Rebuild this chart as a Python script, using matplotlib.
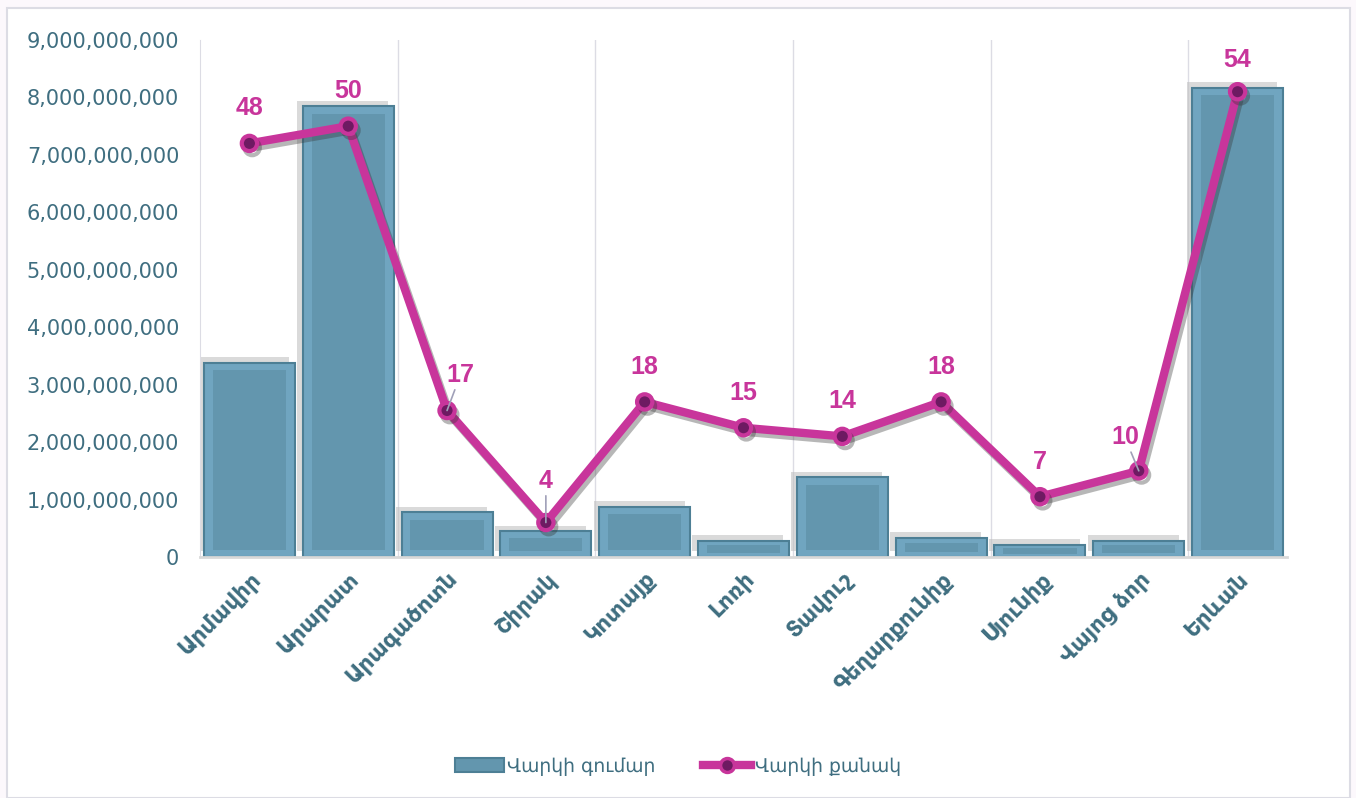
import numpy as np
import matplotlib
matplotlib.use('Agg')
import matplotlib.pyplot as plt
import matplotlib.patheffects as pe
from matplotlib.patches import Rectangle
from matplotlib.lines import Line2D
from matplotlib.ticker import FuncFormatter, MultipleLocator

# data
regions = ['Արմավիր', 'Արարատ', 'Արագածոտն', 'Շիրակ', 'Կոտայք', 'Լոռի',
           'Տավուշ', 'Գեղարքունիք', 'Սյունիք', 'Վայոց ձոր', 'Երևան']
loan_sum = [3.38e9, 7.85e9, 0.78e9, 0.45e9, 0.87e9, 0.28e9,
            1.39e9, 0.33e9, 0.21e9, 0.28e9, 8.17e9]
loan_count = [48, 50, 17, 4, 18, 15, 14, 18, 7, 10, 54]

# label centre offsets in pixels (dx, dy) and leader lines
lab_off = [(0, 35), (0, 35), (13, 36), (0, 42), (0, 35), (0, 35),
           (0, 35), (0, 35), (0, 35), (-13, 34), (0, 32)]
leader = [False, False, True, True, False, False, False, False, False, True, False]

teal = '#3f6e80'
mag = '#c8359b'
dark = '#6e1a62'
bar_frame = '#70a5c0'
bar_mid = '#6396ae'

plt.rcParams['font.family'] = ['DejaVu Sans']

fig = plt.figure(figsize=(13.56, 7.98), dpi=100)
fig.patch.set_facecolor('#fcf8fc')
fig.add_artist(Rectangle((7/1356, 0), 1343/1356, 1 - 8/798, transform=fig.transFigure,
                         facecolor='white', edgecolor='#dcdce4', lw=1.5, zorder=-5))

ax = fig.add_axes([200/1356, 1 - 557/798, 1087/1356, 517/798])
ax.set_facecolor('none')
x = np.arange(len(regions))

bars = ax.bar(x, loan_sum, width=0.92, color=bar_frame, edgecolor='#4d7f95', linewidth=1.5,
              zorder=2)
for b in bars:
    b.set_path_effects([pe.SimplePatchShadow(offset=(-4, 4), shadow_rgbFace='#bdbdbd', alpha=0.55),
                        pe.Normal()])
# bevel look: darker inner panel
bev = np.minimum(0.13e9, np.array(loan_sum) * 0.25)
ax.bar(x, np.array(loan_sum) - 2 * bev, bottom=bev, width=0.74, color=bar_mid,
       edgecolor='none', zorder=3)

ax.set_xlim(-0.5, len(regions) - 0.5)
ax.set_ylim(0, 9e9)
ax.yaxis.set_major_locator(MultipleLocator(1e9))
ax.yaxis.set_major_formatter(FuncFormatter(lambda v, p: f'{v:,.0f}'))
ax.tick_params(axis='y', length=0, labelsize=15, labelcolor=teal, pad=15)
ax.tick_params(axis='x', length=0, pad=8)
ax.set_xticks(x)
ax.set_xticklabels(regions, rotation=45, ha='right', rotation_mode='anchor',
                   fontsize=15.5, fontweight='bold', color=teal)

# vertical gridlines every second category boundary
for g in np.arange(1.5, len(regions) - 1, 2):
    ax.axvline(g, color='#dcdce4', lw=1, zorder=0)
for s in ['top', 'right']:
    ax.spines[s].set_visible(False)
ax.spines['left'].set_color('#dcdce4')
ax.spines['bottom'].set_color('#d9d9d9')
ax.spines['bottom'].set_linewidth(2)

ax2 = ax.twinx()
ax2.set_ylim(0, 60)
ax2.axis('off')
ax2.plot(x, loan_count, color=mag, lw=6, marker='o', markersize=11,
         markerfacecolor=dark, markeredgecolor=mag, markeredgewidth=3, zorder=5,
         path_effects=[pe.SimpleLineShadow(offset=(2, -3), shadow_color='#333333', alpha=0.35),
                       pe.Normal()])

for i, v in enumerate(loan_count):
    dx, dy = lab_off[i]
    ax2.annotate(str(v), (x[i], v), xytext=(dx * 0.72, dy * 0.72), textcoords='offset points',
                 ha='center', va='center', fontsize=18, fontweight='bold', color=mag, zorder=6,
                 family=['Liberation Sans Narrow', 'Liberation Sans', 'DejaVu Sans'])
    if leader[i]:
        ax2.annotate('', (x[i], v), xytext=(dx * 0.72 * 0.6, dy * 0.72 - 11), textcoords='offset points',
                     arrowprops=dict(arrowstyle='-', color='#a0a0b8', lw=1.2, shrinkA=0, shrinkB=0),
                     zorder=7)

handles = [Rectangle((0, 0), 1, 1, facecolor=bar_mid, edgecolor='#4d7f95', lw=1.5),
           Line2D([], [], color=mag, lw=6, marker='o', markersize=10,
                  markerfacecolor=dark, markeredgecolor=mag, markeredgewidth=2.5)]
fig.legend(handles, ['Վարկի գումար', 'Վարկի քանակ'], loc='center', bbox_to_anchor=(0.5, 0.04),
           ncol=2, frameon=False, fontsize=13.5, labelcolor=teal, handlelength=2.6,
           handletextpad=0.2, columnspacing=2.5)

fig.savefig('out.png', dpi=100, facecolor=fig.get_facecolor())
